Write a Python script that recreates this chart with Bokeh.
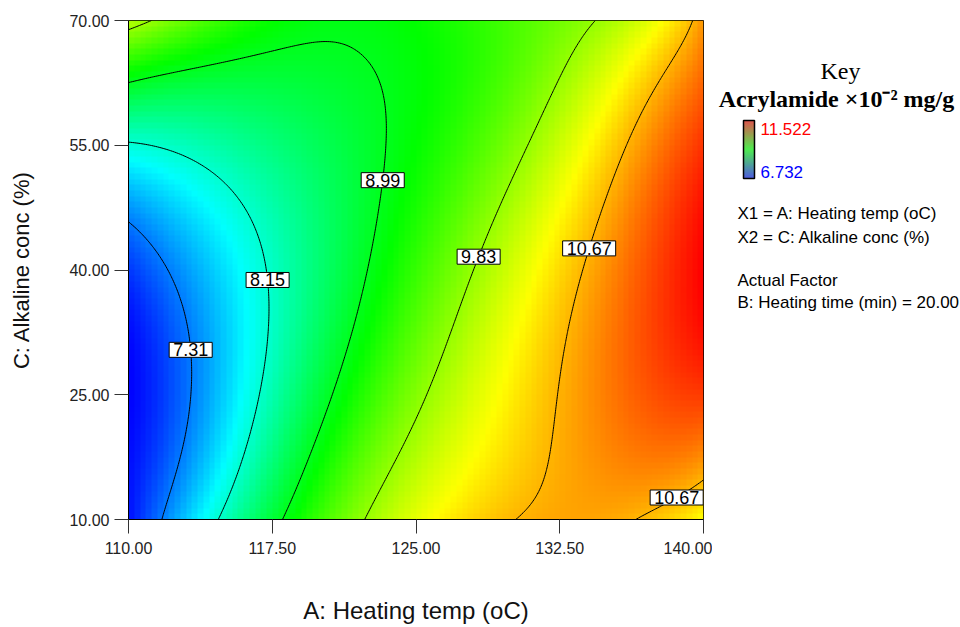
import numpy as np
import contourpy
from bokeh.plotting import figure
from bokeh.models import Range1d, FixedTicker, PrintfTickFormatter, Label
from bokeh.layouts import row
from bokeh.embed import file_html
from bokeh.resources import INLINE
from bokeh.core.properties import value

# ---------------- data ----------------
heating_temp = [110, 115, 120, 125, 130, 135, 140]          # A (oC)
alkaline_conc = [10, 20, 30, 40, 50, 60, 70]                  # C (%)
# acrylamide (x10^-2 mg/g), one list per alkaline_conc, values along heating_temp
acrylamide_c10 = [6.90, 8.21, 9.36, 10.20, 10.66, 10.76, 10.40]
acrylamide_c20 = [6.78, 7.80, 8.93, 9.88, 10.47, 11.00, 11.08]
acrylamide_c30 = [6.75, 7.70, 8.70, 9.52, 10.28, 11.00, 11.45]
acrylamide_c40 = [7.00, 7.79, 8.61, 9.40, 10.14, 10.85, 11.52]
acrylamide_c50 = [7.60, 8.10, 8.65, 9.23, 9.86, 10.64, 11.35]
acrylamide_c60 = [8.68, 8.69, 8.82, 9.10, 9.58, 10.45, 11.15]
acrylamide_c70 = [9.90, 9.40, 9.03, 9.20, 9.55, 9.88, 10.76]

# points (heating temp, alkaline conc)
contour_levels = [7.31, 8.15, 8.99, 9.83, 10.67]
c731_temp = [110.0, 111.32, 112.54, 113.06, 113.23, 113.06, 112.54, 111.81]
c731_conc = [45.7, 43.15, 38.3, 32.3, 28.3, 22.3, 15.5, 10.0]
c815_temp = [110.0, 113.06, 114.8, 116.37, 116.89, 117.24, 117.24, 116.89, 116.19, 114.63]
c815_conc = [55.25, 53.17, 50.4, 47.2, 43.55, 38.3, 32.3, 24.3, 18.3, 10.0]
c899_temp = [110.0, 114.8, 118.28, 120.71, 122.45, 123.15, 123.41, 123.32, 123.06, 122.45,
             120.89, 119.32, 117.93]
c899_conc = [62.67, 65.2, 66.6, 67.3, 66.0, 63.2, 59.2, 53.2, 48.4, 38.3, 28.3, 18.3, 10.0]
c983_temp = [110.0, 111.24, 134.37, 133.06, 131.84, 130.45, 129.24, 128.0, 127.49, 126.63,
             125.23, 122.45]
c983_conc = [68.8, 70.0, 70.0, 65.2, 59.2, 53.2, 47.2, 41.75, 36.3, 30.3, 22.5, 10.0]
c1067_temp = [139.41, 137.76, 136.02, 134.97, 133.93, 133.23, 132.71, 132.19, 131.84, 130.97,
              130.48, 136.71, 138.43, 139.95]
c1067_conc = [70.0, 63.2, 55.2, 49.2, 41.5, 35.1, 29.1, 23.1, 19.1, 13.1, 10.0, 10.0, 13.5, 14.5]
# extremes of the key
extreme_temp = [110.0, 140.0]
extreme_conc = [26.0, 39.0]
scale_low, scale_high = 6.732, 11.522

label_levels = [7.31, 8.15, 8.99, 9.83, 10.67, 10.67]
label_temp_hint = [113.2, 117.2, 122.9, 128.0, 133.9, 138.4]
label_conc_hint = [30.4, 38.7, 51.0, 41.8, 42.6, 13.4]

x_ticks = [110, 117.5, 125, 132.5, 140]
y_ticks = [10, 25, 40, 55, 70]

SANS = "Liberation Sans"
SERIF = "Liberation Serif"

# ---------------- smooth response surface fitted to the readings ----------------
DEG_A, DEG_C = 5, 4


def basis(a, c):
    x = (np.asarray(a, float) - 125.0) / 15.0
    z = (np.asarray(c, float) - 40.0) / 30.0
    return np.stack([x ** i * z ** j for i in range(DEG_A + 1) for j in range(DEG_C + 1)], axis=-1)


grid = np.array([acrylamide_c10, acrylamide_c20, acrylamide_c30, acrylamide_c40,
                 acrylamide_c50, acrylamide_c60, acrylamide_c70], dtype=float)
AA, CC = np.meshgrid(np.array(heating_temp, float), np.array(alkaline_conc, float))
rows = [basis(AA.ravel(), CC.ravel())]
targets = [grid.ravel()]
weights = [np.ones(grid.size)]
for lev, ct, cc_ in zip(contour_levels,
                        [c731_temp, c815_temp, c899_temp, c983_temp, c1067_temp],
                        [c731_conc, c815_conc, c899_conc, c983_conc, c1067_conc]):
    rows.append(basis(ct, cc_))
    targets.append(np.full(len(ct), lev))
    weights.append(np.full(len(ct), 3.0))
rows.append(basis(extreme_temp, extreme_conc))
targets.append(np.array([scale_low, scale_high]))
weights.append(np.full(2, 2.0))
B = np.vstack(rows)
t_ = np.concatenate(targets)
w_ = np.concatenate(weights)
coef, *_ = np.linalg.lstsq(B * w_[:, None], t_ * w_, rcond=None)


def surface_on(aq, cq):
    MA, MC = np.meshgrid(aq, cq)
    return basis(MA, MC) @ coef


stops_t = [0.0, 0.25, 0.5, 0.75, 1.0]
stops_rgb = [(0, 0, 255), (0, 255, 255), (0, 255, 0), (255, 255, 0), (255, 0, 0)]


def colorize(v):
    t = np.clip((v - scale_low) / (scale_high - scale_low), 0, 1)
    return [np.interp(t, stops_t, [s[k] for s in stops_rgb]) for k in range(3)]


xa, xb = heating_temp[0], heating_temp[-1]
ya, yb = alkaline_conc[0], alkaline_conc[-1]

# image cells
nx, ny = 100, 88
ca = xa + (np.arange(nx) + 0.5) * (xb - xa) / nx
cc = ya + (np.arange(ny) + 0.5) * (yb - ya) / ny
vals = surface_on(ca, cc)
r, g, b = colorize(vals)
img = np.empty((ny, nx), dtype=np.uint32)
view = img.view(dtype=np.uint8).reshape((ny, nx, 4))
view[:, :, 0] = r.astype(np.uint8)
view[:, :, 1] = g.astype(np.uint8)
view[:, :, 2] = b.astype(np.uint8)
view[:, :, 3] = 255

# contours on a fine grid
fa = np.linspace(xa, xb, 301)
fc = np.linspace(ya, yb, 301)
FZ = surface_on(fa, fc)
gen = contourpy.contour_generator(x=fa, y=fc, z=FZ)
xs, ys = [], []
for lev in contour_levels:
    for seg in gen.lines(lev):
        xs.append(seg[:, 0].tolist())
        ys.append(seg[:, 1].tolist())

# ---------------- main figure ----------------
p = figure(width=712, height=627, x_range=Range1d(xa, xb), y_range=Range1d(ya, yb),
           output_backend="svg", toolbar_location=None,
           min_border_left=128, min_border_right=9, min_border_top=20, min_border_bottom=108)
p.image_rgba(image=[img], x=xa, y=ya, dw=xb - xa, dh=yb - ya)
p.multi_line(xs=xs, ys=ys, line_color="black", line_width=1)

for lev, ha, hc in zip(label_levels, label_temp_hint, label_conc_hint):
    pts = np.vstack(gen.lines(lev))
    d = ((pts[:, 0] - ha) * 19.17) ** 2 + ((pts[:, 1] - hc) * 8.32) ** 2
    k = int(np.argmin(d))
    kw = dict(x=float(pts[k, 0]), y=float(pts[k, 1]), text=f"{lev:.2f}",
              text_align="center", text_baseline="middle", text_font=SANS,
              text_font_size="18px", text_color="black",
              background_fill_color="white", background_fill_alpha=1.0,
              border_line_color="black", border_line_width=1)
    try:
        lab = Label(padding=(4, 1), **kw)
    except Exception:
        lab = Label(**kw)
    p.add_layout(lab)

p.grid.visible = False
p.outline_line_color = "black"
p.outline_line_width = 1
p.background_fill_color = "white"

p.xaxis.ticker = FixedTicker(ticks=x_ticks)
p.yaxis.ticker = FixedTicker(ticks=y_ticks)
p.xaxis.formatter = PrintfTickFormatter(format="%.2f")
p.yaxis.formatter = PrintfTickFormatter(format="%.2f")
for ax in (p.xaxis[0], p.yaxis[0]):
    ax.major_tick_out = 14
    ax.major_tick_in = 0
    ax.minor_tick_out = 0
    ax.minor_tick_in = 0
    ax.axis_line_color = "black"
    ax.major_tick_line_color = "#333333"
    ax.major_label_text_font = SANS
    ax.major_label_text_font_size = "16px"
    ax.major_label_text_color = "#222222"
    ax.axis_label_text_font = SANS
    ax.axis_label_text_font_style = "normal"
    ax.axis_label_text_color = "#111111"
p.xaxis.axis_label = "A: Heating temp (oC)"
p.yaxis.axis_label = "C: Alkaline conc (%)"
p.xaxis.axis_label_text_font_size = "24px"
p.yaxis.axis_label_text_font_size = "22px"
p.xaxis.major_label_standoff = 8
p.xaxis.axis_label_standoff = 40
p.yaxis.major_label_standoff = 5
p.yaxis.axis_label_standoff = 32

# ---------------- key panel (frame matches the main frame rows: y = page pixel) ----------------
q = figure(width=248, height=627, x_range=Range1d(0, 248), y_range=Range1d(519, 20),
           output_backend="svg", toolbar_location=None, x_axis_type=None, y_axis_type=None,
           min_border_left=0, min_border_right=0, min_border_top=20, min_border_bottom=108)
q.grid.visible = False
q.outline_line_color = None

q.text(x=[128], y=[70], text=["Key"], text_font=value(SERIF), text_font_size="24px",
       text_align="center", text_baseline="middle", text_color="black")
q.text(x=[124], y=[98], text=["Acrylamide \u00d710\u207b\u00b2 mg/g"], text_font=value(SERIF),
       text_font_size="24px", text_font_style="bold",
       text_align="center", text_baseline="middle", text_color="black")

# colour bar
bar_stops = [0.0, 0.5, 1.0]
bar_rgb = [(20, 40, 210), (20, 230, 20), (210, 30, 20)]
nb = 58
bar_vals = np.linspace(scale_high, scale_low, nb)
tb = (bar_vals - scale_low) / (scale_high - scale_low)
bar_cols = ["#%02x%02x%02x" % tuple(int(np.interp(t, bar_stops, [s[k] for s in bar_rgb])) for k in range(3))
            for t in tb]
tops = 120 + np.arange(nb)
q.quad(left=31, right=42, top=tops, bottom=tops + 1, fill_color=bar_cols, line_color=None)
q.quad(left=[31], right=[42], top=[120], bottom=[120 + nb], fill_color=None, line_color="black",
       line_width=1.5)
q.text(x=[48], y=[128], text=[f"{scale_high:.3f}"], text_font=value(SANS), text_font_size="17px",
       text_align="left", text_baseline="middle", text_color="#ff0000")
q.text(x=[48], y=[171], text=[f"{scale_low:.3f}"], text_font=value(SANS), text_font_size="17px",
       text_align="left", text_baseline="middle", text_color="#0000ff")

info = ["X1 = A: Heating temp (oC)", "X2 = C: Alkaline conc (%)", "Actual Factor",
        "B: Heating time (min) = 20.00"]
q.text(x=[25, 25, 25, 25], y=[213, 237, 280, 302], text=info, text_font=value(SANS),
       text_font_size="17px", text_align="left", text_baseline="middle", text_color="black")

layout = row(p, q)
open("out.html", "w").write(file_html(layout, INLINE))
